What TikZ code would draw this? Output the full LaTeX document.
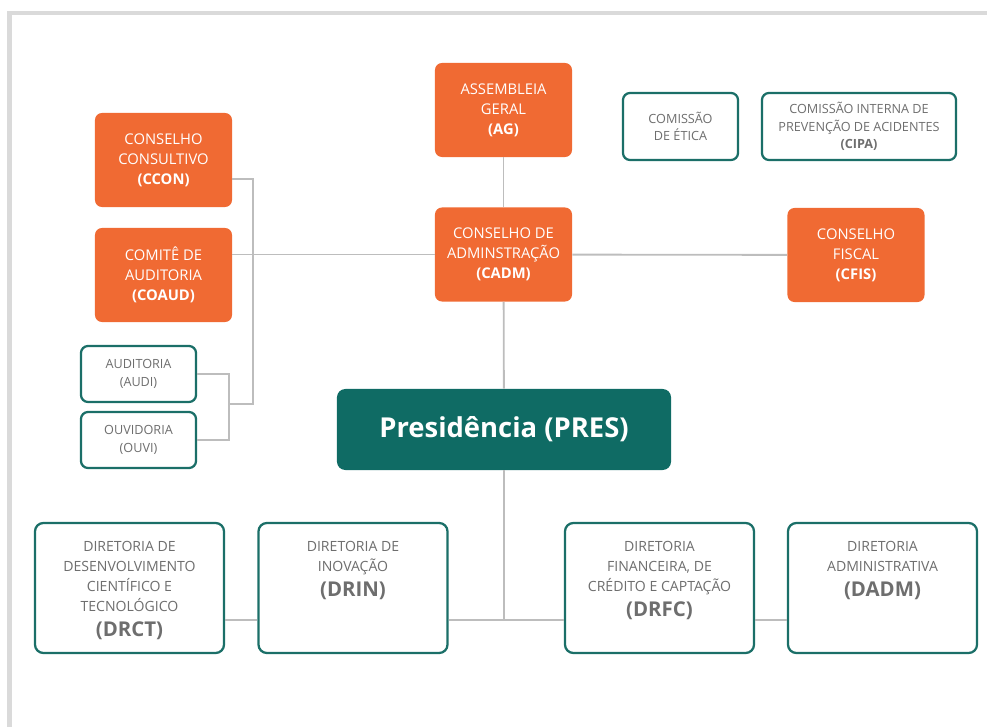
\documentclass[tikz,border=0pt]{standalone}
\usepackage{fontspec}
\setmainfont{Open Sans}
\usetikzlibrary{positioning}

\definecolor{laranja}{HTML}{F06A33}
\definecolor{verdeesc}{HTML}{0F6B64}
\definecolor{contorno}{HTML}{1B6F68}
\definecolor{cinzatxt}{HTML}{6E6E6E}
\definecolor{cinzalin}{HTML}{BDBDBD}
\definecolor{moldura}{HTML}{DADADA}

\tikzset{
  orgbox/.style={fill=laranja,text=white,rounded corners=5pt,align=center,
    minimum width=3.425cm,minimum height=2.35cm,inner sep=2pt,
    font=\fontsize{10.5}{14.2}\selectfont},
  cxbox/.style={draw=contorno,fill=white,line width=1.6pt,rounded corners=5pt,
    text=cinzatxt,align=center,inner sep=2pt,
    font=\fontsize{9}{12.5}\selectfont},
  dirbox/.style={draw=contorno,fill=white,line width=1.6pt,rounded corners=6pt,
    text=cinzatxt,minimum width=4.725cm,minimum height=3.25cm,inner sep=0pt,
    font=\fontsize{10}{14.2}\selectfont},
  presbox/.style={fill=verdeesc,text=white,rounded corners=6pt,
    minimum width=8.35cm,minimum height=2.025cm,
    font=\fontsize{19.5}{22}\selectfont\bfseries},
  link/.style={draw=cinzalin,line width=1.3pt}
}
\newcommand{\sigla}[1]{{\fontsize{14.5}{18}\selectfont\bfseries #1}}
\newcommand{\diretoria}[1]{\parbox[c][3.25cm][t]{4.6cm}{\centering\vspace*{0.47cm}#1\par}}

\begin{document}
\begin{tikzpicture}[x=0.025cm,y=-0.025cm]
  \useasboundingbox (0,0) rectangle (987,727);
  \draw[moldura,line width=3pt] (7,13) -- (987,13);
  \draw[moldura,line width=3pt] (9.5,13) -- (9.5,727);

  % conselhos
  \node[orgbox] (ag) at (503.5,110) {ASSEMBLEIA\\GERAL\\\textbf{(AG)}};
  \node[orgbox] (cadm) at (503.5,254.5) {CONSELHO DE\\ADMINSTRAÇÃO\\\textbf{(CADM)}};
  \node[orgbox] (ccon) at (163.5,160) {CONSELHO\\CONSULTIVO\\\textbf{(CCON)}};
  \node[orgbox] (coaud) at (163.5,275) {COMITÊ DE\\AUDITORIA\\\textbf{(COAUD)}};
  \node[orgbox] (cfis) at (856,255) {CONSELHO\\FISCAL\\\textbf{(CFIS)}};

  % comissoes e orgaos de apoio
  \node[cxbox,minimum width=2.875cm,minimum height=1.675cm] (etica) at (680.5,126.5) {COMISSÃO\\DE ÉTICA};
  \node[cxbox,minimum width=4.85cm,minimum height=1.675cm] (cipa) at (859,126.5) {COMISSÃO INTERNA DE\\PREVENÇÃO DE ACIDENTES\\\textbf{(CIPA)}};
  \node[cxbox,minimum width=2.875cm,minimum height=1.4cm] (audi) at (138.5,374) {AUDITORIA\\(AUDI)};
  \node[cxbox,minimum width=2.875cm,minimum height=1.4cm] (ouvi) at (138.5,440) {OUVIDORIA\\(OUVI)};

  \node[presbox] (pres) at (504,429.5) {Presidência (PRES)};

  % diretorias
  \node[dirbox] (drct) at (129.5,588) {\diretoria{DIRETORIA DE\\DESENVOLVIMENTO\\CIENTÍFICO E\\TECNOLÓGICO\\[3pt]\sigla{(DRCT)}}};
  \node[dirbox] (drin) at (353,588) {\diretoria{DIRETORIA DE\\INOVAÇÃO\\[3pt]\sigla{(DRIN)}}};
  \node[dirbox] (drfc) at (659.5,588) {\diretoria{DIRETORIA\\FINANCEIRA, DE\\CRÉDITO E CAPTAÇÃO\\[3pt]\sigla{(DRFC)}}};
  \node[dirbox] (dadm) at (882.5,588) {\diretoria{DIRETORIA\\ADMINISTRATIVA\\[3pt]\sigla{(DADM)}}};

  % ligacoes
  \coordinate (spineL) at (253,404);
  \coordinate (spineA) at (229,404);
  \coordinate (dbus) at (504,620);
  \draw[link] (ag) -- (cadm);
  \draw[link] (cadm) -- (pres);
  \draw[link] (cadm.west) -- (cadm.west -| coaud.east);
  \draw[link] (cadm) -- (cfis);
  \draw[link] ([yshift=-0.475cm]ccon.east) -| (spineL) -- (spineA);
  \draw[link] (audi.east) -| (spineA) |- (ouvi.east);
  \draw[link] (pres) -- (dbus);
  \draw[link] (drct.east |- dbus) -- (drin.west |- dbus);
  \draw[link] (drin.east |- dbus) -- (drfc.west |- dbus);
  \draw[link] (drfc.east |- dbus) -- (dadm.west |- dbus);
\end{tikzpicture}
\end{document}
